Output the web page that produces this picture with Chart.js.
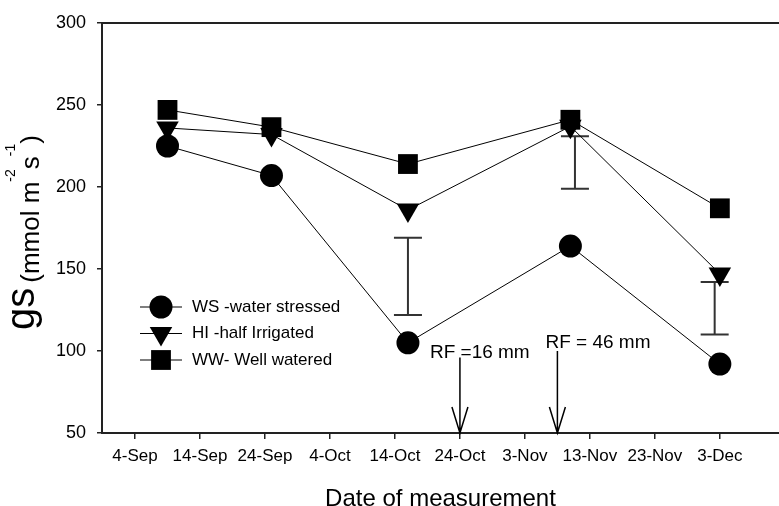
<!DOCTYPE html>
<html>
<head>
<meta charset="utf-8">
<title>Stomatal conductance</title>
<script src="https://cdn.jsdelivr.net/npm/chart.js@4/dist/chart.umd.min.js"></script>
<style>
  html, body { margin: 0; padding: 0; background: #fff; }
  #gs { display: block; }
</style>
</head>
<body>
<canvas id="gs" width="779" height="506"></canvas>
<script>
// x values are days counted from 4-Sep
const tickDays = [0, 10, 20, 30, 40, 50, 60, 70, 80, 90];
const tickLabels = ['4-Sep', '14-Sep', '24-Sep', '4-Oct', '14-Oct', '24-Oct', '3-Nov', '13-Nov', '23-Nov', '3-Dec'];

const measureDays = [5, 21, 42, 67, 90];
const wsValues = [225, 207, 105, 164, 92];
const hiValues = [236, 232, 186, 237, 147];
const wwValues = [247, 236.5, 214, 241, 187];
const seriesNames = ['WS -water stressed', 'HI -half Irrigated', 'WW- Well watered'];

// LSD bars
const lsdDays = [42, 67.7, 89.2];
const lsdLow = [122, 199, 110];
const lsdHigh = [169, 231, 142];

// rainfall events
const rainDays = [50, 65];
const rainTop = [96, 100];
const rainLabels = ['RF =16 mm', 'RF = 46 mm'];

const FONT = 'Arial, "Liberation Sans", sans-serif';

function pts(values) {
  return measureDays.map((d, i) => ({ x: d, y: values[i] }));
}

function series(label, values, style, radius) {
  return {
    label: label,
    data: pts(values),
    borderColor: '#000',
    borderWidth: 1,
    backgroundColor: '#000',
    pointStyle: style,
    pointRadius: radius,
    pointRotation: style === 'triangle' ? 180 : 0,
    pointBorderWidth: 0,
    pointBackgroundColor: '#000',
    tension: 0,
    clip: false
  };
}

function drawMarker(ctx, style, radius, x, y) {
  ctx.fillStyle = '#000';
  ctx.beginPath();
  if (style === 'circle') {
    ctx.arc(x, y, radius, 0, Math.PI * 2);
  } else if (style === 'triangle') {
    const h = radius * Math.sin(Math.PI / 3);
    ctx.moveTo(x - h, y - radius / 2);
    ctx.lineTo(x + h, y - radius / 2);
    ctx.lineTo(x, y + radius);
    ctx.closePath();
  } else {
    const s = radius * Math.SQRT1_2;
    ctx.rect(x - s, y - s, 2 * s, 2 * s);
  }
  ctx.fill();
}

const extras = {
  id: 'extras',
  beforeDatasetsDraw(chart) {
    const { ctx, scales: { x, y } } = chart;
    ctx.save();
    ctx.strokeStyle = '#333';
    ctx.lineWidth = 2;
    lsdDays.forEach((d, i) => {
      const px = x.getPixelForValue(d);
      const top = y.getPixelForValue(lsdHigh[i]);
      const bot = y.getPixelForValue(lsdLow[i]);
      ctx.beginPath();
      ctx.moveTo(px, top); ctx.lineTo(px, bot);
      ctx.moveTo(px - 14, top); ctx.lineTo(px + 14, top);
      ctx.moveTo(px - 14, bot); ctx.lineTo(px + 14, bot);
      ctx.stroke();
    });
    ctx.restore();
  },
  afterDraw(chart) {
    const { ctx, chartArea: area, scales: { x, y } } = chart;
    ctx.save();

    // top frame line
    ctx.strokeStyle = '#222';
    ctx.lineWidth = 2;
    ctx.beginPath();
    ctx.moveTo(area.left, area.top);
    ctx.lineTo(area.right, area.top);
    ctx.stroke();

    // rainfall arrows
    const labelShift = [[-30, 0], [-12, -3]];
    ctx.strokeStyle = '#000';
    ctx.lineWidth = 1.5;
    ctx.fillStyle = '#000';
    ctx.font = '19px ' + FONT;
    ctx.textAlign = 'left';
    ctx.textBaseline = 'alphabetic';
    rainDays.forEach((d, i) => {
      const px = x.getPixelForValue(d);
      const top = y.getPixelForValue(rainTop[i]);
      const tip = area.bottom;
      ctx.beginPath();
      ctx.moveTo(px, top); ctx.lineTo(px, tip);
      ctx.moveTo(px - 8, tip - 26); ctx.lineTo(px, tip);
      ctx.lineTo(px + 8, tip - 26);
      ctx.stroke();
      ctx.fillText(rainLabels[i], px + labelShift[i][0], top + labelShift[i][1]);
    });

    // legend
    const styles = chart.data.datasets.map(ds => [ds.pointStyle, ds.pointRadius]);
    ctx.font = '17px ' + FONT;
    ctx.textBaseline = 'middle';
    seriesNames.forEach((name, i) => {
      const ly = 307 + i * 26.5;
      ctx.strokeStyle = '#000';
      ctx.lineWidth = 1.2;
      ctx.beginPath();
      ctx.moveTo(140, ly); ctx.lineTo(182, ly);
      ctx.stroke();
      drawMarker(ctx, styles[i][0], styles[i][1], 161, ly);
      ctx.fillStyle = '#000';
      ctx.fillText(name, 192, ly);
    });

    // y axis title: gs (mmol m-2 s-1)
    ctx.translate(34, 330);
    ctx.rotate(-Math.PI / 2);
    ctx.textBaseline = 'alphabetic';
    ctx.fillStyle = '#000';
    let u = 0;
    const part = (text, size, dy) => {
      ctx.font = size + 'px ' + FONT;
      ctx.fillText(text, u, dy);
      u += ctx.measureText(text).width;
    };
    part('gs', 40, 0);
    u += 5;
    part('(mmol m', 26, 4.5);
    part('-2', 14, -19.5);
    part('s', 26, 4.5);
    part('-1', 14, -19.5);
    part(')', 26, 4.5);

    ctx.restore();
  }
};

new Chart(document.getElementById('gs'), {
  type: 'line',
  data: {
    datasets: [
      series(seriesNames[0], wsValues, 'circle', 11.5),
      series(seriesNames[1], hiValues, 'triangle', 13),
      series(seriesNames[2], wwValues, 'rect', 14)
    ]
  },
  options: {
    responsive: false,
    animation: false,
    events: [],
    layout: { autoPadding: false, padding: { top: 23, right: 0, left: 0, bottom: 0 } },
    plugins: { legend: { display: false }, tooltip: { enabled: false } },
    scales: {
      x: {
        type: 'linear',
        min: -5.08,
        max: 99.1,
        afterBuildTicks: s => { s.ticks = tickDays.map(v => ({ value: v })); },
        afterFit: s => { s.height = 73; },
        ticks: {
          callback: v => tickLabels[tickDays.indexOf(v)],
          font: { family: FONT, size: 17 },
          color: '#000',
          padding: 7,
          maxRotation: 0,
          autoSkip: false
        },
        grid: { drawOnChartArea: false, tickLength: 6, color: '#222', lineWidth: 1.5 },
        border: { display: true, color: '#222', width: 2 },
        title: {
          display: true,
          text: 'Date of measurement',
          font: { family: FONT, size: 24, lineHeight: 1 },
          color: '#000',
          padding: { top: 0, bottom: -5 }
        }
      },
      y: {
        min: 50,
        max: 300,
        afterFit: s => { s.width = 102; },
        ticks: {
          stepSize: 50,
          font: { family: FONT, size: 18 },
          color: '#000',
          padding: 11
        },
        grid: { drawOnChartArea: false, tickLength: 5, color: '#222', lineWidth: 1.5 },
        border: { display: true, color: '#222', width: 2 }
      }
    }
  },
  plugins: [extras]
});
</script>
</body>
</html>
